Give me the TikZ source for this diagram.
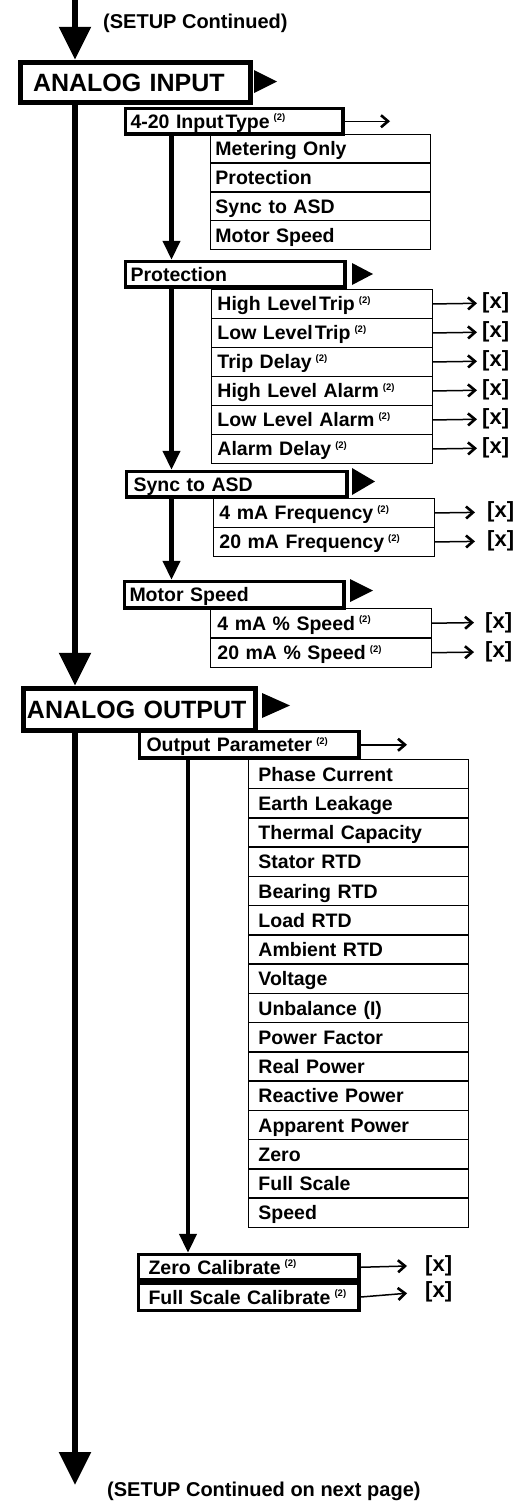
\documentclass[tikz,border=0pt]{standalone}
\usepackage{fontspec}
\setmainfont{Liberation Sans}
\usetikzlibrary{arrows.meta}
\newcommand\twonote{\hspace{4pt}\raisebox{7.5pt}{\fontsize{9.5}{10}\selectfont(2)}}
\begin{document}
\begin{tikzpicture}[x=1pt,y=-1pt,
  every node/.style={font=\bfseries\fontsize{19.5}{21}\selectfont},
  big/.style={draw,line width=5.5pt,anchor=north west,inner ysep=0pt,minimum height=40pt,text height=17.9pt,text depth=0pt,align=left,font=\bfseries\fontsize{25}{26}\selectfont},
  mid/.style={draw,line width=3.5pt,anchor=north west,inner ysep=0pt,inner xsep=5pt,minimum height=25.5pt,text height=14pt,text depth=0pt,align=left},
  opt/.style={draw,line width=1.5pt,anchor=north west,inner ysep=0pt,inner xsep=5pt,minimum height=29pt,text height=14pt,text depth=0pt,align=left,text width=210pt},
  xv/.style={anchor=west,inner sep=0pt,font=\bfseries\fontsize{22}{22}\selectfont},
  lbl/.style={anchor=west,inner sep=0pt,font=\bfseries\fontsize{20}{21}\selectfont},
  mainarr/.style={line width=5.5pt,-{Triangle[width=31pt,length=33pt]}},
  subarr/.style={line width=4.5pt,-{Triangle[width=17pt,length=19pt]}},
  sarr/.style={line width=1.5pt,-{Straight Barb[length=7pt,width=12pt,line width=2.6pt]}},
  tri/.style={fill=black}
]
\useasboundingbox (0,0) rectangle (518,1502);

% top label
\node[lbl] (t1) at (103,23) {(SETUP Continued)};

% ANALOG INPUT
\node[big, text width=205pt, inner xsep=12.5pt] (ai) at (17.75,59.75) {ANALOG INPUT};
\fill[tri] (254,70) -- (277,81.5) -- (254,93) -- cycle;

% 4-20 Input Type
\node[mid, text width=207.5pt] (it) at (123.75,106.75) {4-20 Input\kern2pt Type\twonote};
\coordinate (e1) at (390,0);
\draw[sarr] (it.east) -- (it.east -| e1);
\foreach \t [count=\i] in {Metering Only, Protection, Sync to ASD, Motor Speed}
  \node[opt, minimum height=28.75pt] (ip\i) at (209.7,{133.7+28.75*(\i-1)}) {\t};

% Protection
\node[mid, text width=209.5pt] (pr) at (123.75,259.75) {Protection};
\fill[tri] (352,263) -- (373,274) -- (352,285) -- cycle;
\foreach \t [count=\i] in {High Level\kern2pt Trip\twonote, Low Level\kern2pt Trip\twonote, Trip Delay\twonote, High Level Alarm\twonote, Low Level Alarm\twonote, Alarm Delay\twonote}{
  \node[opt, inner xsep=6pt, text width=209pt] (pp\i) at (210.7,{288.7+29*(\i-1)}) {\t};
  \node[xv] (px\i) at (482,{288.7+29*(\i-1)+14.5}) {[x]};
  \draw[sarr, shorten >=5pt] (pp\i.east) -- (px\i.west);
}

% Sync to ASD
\node[mid, text width=206.5pt, inner xsep=7pt] (sy) at (124.75,469.75) {Sync to ASD};
\fill[tri] (352,468) -- (375,481.5) -- (352,495) -- cycle;
\foreach \t [count=\i] in {4 mA Frequency\twonote, 20 mA Frequency\twonote}{
  \node[opt, inner xsep=6pt, text width=209pt] (sp\i) at (212.7,{497.7+29*(\i-1)}) {\t};
  \node[xv] (sx\i) at (487,{497.7+29*(\i-1)+14.5}) {[x]};
  \draw[sarr, shorten >=12pt] (sp\i.east) -- (sx\i.west);
}

% Motor Speed
\node[mid, text width=209.5pt, minimum height=26.5pt] (ms) at (122.75,579.75) {Motor Speed};
\fill[tri] (350,579) -- (373,590.5) -- (350,602) -- cycle;
\foreach \t [count=\i] in {4 mA \% Speed\twonote, 20 mA \% Speed\twonote}{
  \node[opt, inner xsep=7pt, text width=207pt, minimum height=29.5pt] (mp\i) at (209.7,{607.7+29.5*(\i-1)}) {\t};
  \node[xv] (mx\i) at (485,{607.7+29.5*(\i-1)+14.75}) {[x]};
  \draw[sarr, shorten >=11pt] (mp\i.east) -- (mx\i.west);
}

% ANALOG OUTPUT
\node[big, text width=225pt, inner xsep=3.5pt, minimum height=42pt] (ao) at (20.75,685.75) {ANALOG OUTPUT};
\fill[tri] (262,693) -- (290,705.5) -- (262,718) -- cycle;

% Output Parameter
\node[mid, text width=205.5pt, inner xsep=7pt, minimum height=26.5pt] (op) at (137.75,729.75) {Output Parameter\twonote};
\coordinate (e2) at (407,0);
\draw[sarr] (op.east) -- (op.east -| e2);
\foreach \t [count=\i] in {Phase Current, Earth Leakage, Thermal Capacity, Stator RTD, Bearing RTD, Load RTD, Ambient RTD, Voltage, Unbalance (I), Power Factor, Real Power, Reactive Power, Apparent Power, Zero, Full Scale, Speed}
  \node[opt, inner xsep=10pt, text width=200pt, minimum height=29.25pt] (op\i) at (247.7,{758.7+29.25*(\i-1)}) {\t};

% Calibrate
\node[mid, text width=200.5pt, inner xsep=10pt] (zc) at (136.75,1252.75) {Zero Calibrate\twonote};
\node[mid, text width=200.5pt, inner xsep=10pt, minimum height=27pt] (fc) at (zc.south west) {Full Scale Calibrate\twonote};
\node[xv] (zx) at (425,1265.5) {[x]};
\node[xv] (fx) at (425,1291.75) {[x]};
\draw[sarr, shorten >=18pt] (zc.east) -- (zx.west);
\draw[sarr, shorten >=18pt] (fc.east) -- (fx.west);

% main flow arrows
\coordinate (mtop) at (75,0);
\coordinate (mend) at (75,1485);
\draw[mainarr] (mtop) -- (mtop |- ai.north);
\draw[mainarr] (mtop |- ai.south) -- (mtop |- ao.north);
\draw[mainarr] (mtop |- ao.south) -- (mend);

% sub flow arrows
\coordinate (s1) at (171.5,0);
\draw[subarr] (s1 |- it.south) -- (s1 |- pr.north);
\draw[subarr] (s1 |- pr.south) -- (s1 |- sy.north);
\draw[subarr] (s1 |- sy.south) -- (s1 |- ms.north);
\coordinate (s2) at (188,0);
\draw[subarr] (s2 |- op.south) -- (s2 |- zc.north);

% bottom label
\node[lbl] (t2) at (107,1491) {(SETUP Continued on next page)};
\end{tikzpicture}
\end{document}
